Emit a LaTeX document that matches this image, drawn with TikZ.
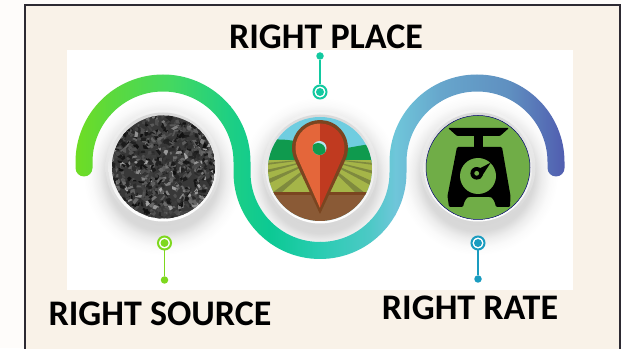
\documentclass[tikz,border=0pt]{standalone}
\usepackage{fontspec}
\setmainfont{Carlito}
\usetikzlibrary{calc}
\definecolor{pagebg}{HTML}{FEFCFA}
\definecolor{panelbg}{HTML}{F9F2E8}
\definecolor{framec}{HTML}{2D2A32}
\definecolor{cgreen}{HTML}{7ED81E}
\definecolor{cteal}{HTML}{12C9A0}
\definecolor{cblue}{HTML}{1A9CC0}
\definecolor{sky}{HTML}{6FCDE0}
\definecolor{hill}{HTML}{0F9A4E}
\definecolor{fieldc}{HTML}{A5B548}
\definecolor{furrow}{HTML}{7F8A3E}
\definecolor{soil}{HTML}{8A5A36}
\definecolor{pinedge}{HTML}{7A4520}
\definecolor{pinl}{HTML}{E4663A}
\definecolor{pinr}{HTML}{C03A20}
\definecolor{scalebg}{HTML}{70AD47}
\tikzset{
  ring/.style={circle,draw=#1,line width=2pt,fill=white,minimum size=13pt,inner sep=0pt},
  core/.style={circle,fill=#1,minimum size=8pt,inner sep=0pt},
  enddot/.style={circle,fill=#1,minimum size=7.5pt,inner sep=0pt},
  stem/.style={draw=#1,line width=1.7pt},
  label/.style={font=\bfseries\fontsize{36}{36}\selectfont,text=black,inner sep=0pt,anchor=base},
}
\pgfdeclareradialshading{softshadow}{\pgfpointorigin}{
  color(0bp)=(black!20); color(17.5bp)=(black!15); color(20bp)=(black!7); color(22.5bp)=(black!2); color(25bp)=(white)}
\newcommand{\PlateAt}[2]{%
  \shade[shading=softshadow] (#1,#2-8) circle[radius=80];
  \shade[top color=black!5,bottom color=black!16] (#1,#2) circle[radius=57.5];
  \shade[top color=black!15,bottom color=white] (#1,#2) circle[radius=54.5];
}
\begin{document}
\begin{tikzpicture}[x=1pt,y=1pt]
\useasboundingbox (0,0) rectangle (621,348);
\fill[pagebg] (0,0) rectangle (621,348);
\fill[panelbg] (24.5,-3) rectangle (619.5,342.5);
\draw[framec,line width=2pt] (24.5,-3) rectangle (619.5,342.5);
\fill[white] (67,58) rectangle (573,298);
\begin{scope}
\clip (67,58) rectangle (573,298);
\PlateAt{163}{181}
\PlateAt{320}{179}
\PlateAt{478}{181}
\end{scope}
% ribbon
\begin{scope}
\clip (75.5,180) -- (75.5,186) arc[start angle=180,end angle=0,radius=87.5]
  -- (250.5,175.5) arc[start angle=180,end angle=360,radius=69.5]
  -- (389.5,186) arc[start angle=180,end angle=0,radius=87.5]
  -- (564.5,180) arc[start angle=0,end angle=-180,radius=8.5]
  -- (547.5,186) arc[start angle=0,end angle=180,radius=70.5]
  -- (406.5,175.5) arc[start angle=0,end angle=-180,radius=86.5]
  -- (233.5,186) arc[start angle=0,end angle=180,radius=70.5]
  -- (92.5,180) arc[start angle=0,end angle=-180,radius=8.5] -- cycle;
\foreach \xa/\xb/\ca/\cb in {
 70/110/72DD20/5CD93C,110/170/5CD93C/44D860,170/230/44D860/1DCF84,230/270/1DCF84/0CC994,
 270/320/0CC994/2ACCB2,320/370/2ACCB2/4DC9C6,370/395/4DC9C6/6FC6DA,395/440/6FC6DA/67A6CC,
 440/510/67A6CC/5F8FC0,510/570/5F8FC0/4F58AE}{
  \definecolor{ca}{HTML}{\ca}\definecolor{cb}{HTML}{\cb}
  \shade[left color=ca,right color=cb] (\xa,70) rectangle (\xb+.5,280);
}
\end{scope}
% gravel
\begin{scope}
\clip (163.5,181) circle[radius=51.5];
\fill[black!78] (163.5,181) circle[radius=52];
\pgfmathsetseed{4711}
\foreach \i in {1,...,1000}{
  \pgfmathsetmacro{\px}{110+107*rnd}
  \pgfmathsetmacro{\py}{127+107*rnd}
  \pgfmathsetmacro{\ga}{rnd<.10 ? 35+20*rnd : 58+36*rnd}
  \pgfmathsetmacro{\ra}{360*rnd}
  \pgfmathsetmacro{\sa}{1.2+2.6*rnd}
  \pgfmathsetmacro{\sb}{.8+1.6*rnd}
  \fill[black!\ga,rotate around={\ra:(\px,\py)}] (\px-\sa,\py-\sb) -- (\px+\sa,\py-.6*\sb) -- (\px+.6*\sa,\py+\sb) -- (\px-.7*\sa,\py+.8*\sb) -- cycle;
}
\end{scope}
% field picture
\begin{scope}
\clip (320,179) circle[radius=52];
\fill[sky] (266,125) rectangle (374,233);
\fill[hill] (266,208) .. controls (290,210) and (300,206) .. (320,200) .. controls (340,196) and (355,203) .. (374,204) -- (374,186) -- (266,186) -- cycle;
\fill[fieldc] (266,155) rectangle (374,188);
\fill[furrow] (320,190) -- (266,185) -- (266,183) -- cycle;
\fill[furrow] (320,190) -- (266,178) -- (266,175) -- cycle;
\fill[furrow] (320,190) -- (266,168) -- (266,163) -- cycle;
\fill[furrow] (320,190) -- (272,155) -- (281,155) -- cycle;
\fill[furrow] (320,190) -- (374,185) -- (374,183) -- cycle;
\fill[furrow] (320,190) -- (374,177) -- (374,174) -- cycle;
\fill[furrow] (320,190) -- (374,166) -- (374,161) -- cycle;
\fill[furrow] (320,190) -- (365,155) -- (356,155) -- cycle;
\fill[soil] (266,125) rectangle (374,155);
\fill[pinedge] (266,152.5) rectangle (374,155.5);
\end{scope}
% pin
\fill[pinedge] (320,134) -- (345.35,188.1) arc[start angle=-25.1,end angle=205.1,radius=28] -- cycle;
\begin{scope}
\clip (320,140) -- (342.36,190) arc[start angle=-24.1,end angle=204.1,radius=24.5] -- cycle;
\fill[pinl] (290,135) rectangle (320,230);
\fill[pinr] (320,135) rectangle (350,230);
\end{scope}
\fill[sky!50!white] (319.5,200) circle[radius=7];
\begin{scope}
\clip (319.5,200) circle[radius=7];
\fill[hill] (318,197.5) circle[radius=7.5];
\end{scope}
% scale picture
\fill[scalebg,draw=blue!45!black,line width=.5pt] (478,180.5) circle[radius=52];
\fill[black,rounded corners=1pt] (448,220) -- (509,220) -- (500,212) -- (457,212) -- cycle;
\fill[black] (474,213) rectangle (483,200);
\fill[black,rounded corners=1.2pt] (449,141) -- (463,141) .. controls (465,149) and (467,151) .. (471,151) -- (488,151) .. controls (492,151) and (494,149) .. (496,141) -- (510,141) -- (510.5,152) -- (502,201) -- (457,201) -- (447.5,152) -- cycle;
\fill[scalebg] (478,172) circle[radius=18];
\fill[black] (490.7,185.3) -- (479.5,179.5) -- (471.5,172) -- (480,169) -- cycle;
\fill[black] (476.7,174.7) circle[radius=6.3];
\fill[scalebg] (476.7,174.7) circle[radius=2.4];
% callouts
\node[ring=cgreen] (ringa) at (164.5,105) {};
\node[enddot=cgreen] (enda) at (164.5,68) {};
\draw[stem=cgreen] (ringa) -- (enda);
\node[core=cgreen] at (ringa.center) {};
\node[ring=cteal] (ringb) at (320,256) {};
\node[enddot=cteal] (endb) at (320,292) {};
\draw[stem=cteal] (ringb) -- (endb);
\node[core=cteal] at (ringb.center) {};
\node[ring=cblue] (ringc) at (478,105) {};
\node[enddot=cblue] (endc) at (478,69) {};
\draw[stem=cblue] (ringc) -- (endc);
\node[core=cblue] at (ringc.center) {};
% labels
\node[label] (tb) at (326,299) {RIGHT PLACE};
\node[label] (ta) at (160,22) {RIGHT SOURCE};
\node[label] (tc) at (470,28) {RIGHT RATE};
\end{tikzpicture}
\end{document}
